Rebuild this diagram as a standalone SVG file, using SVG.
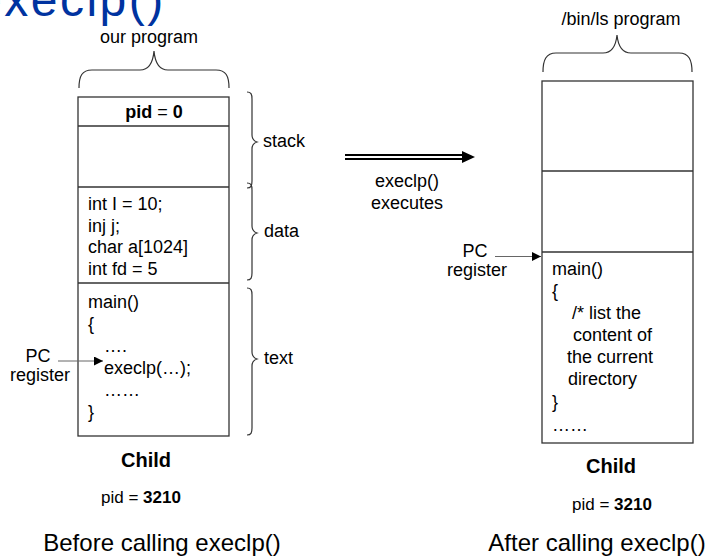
<svg xmlns="http://www.w3.org/2000/svg" width="719" height="557" viewBox="0 0 719 557">
  <defs>
    <style>
      text { font-family: "Liberation Sans", Arial, sans-serif; fill: #000; }
      .t { font-size: 18px; }
      .mid { text-anchor: middle; }
      .b { font-weight: bold; }
      .cap { font-size: 24px; }
      .child { font-size: 20px; font-weight: bold; }
      .pid { font-size: 17px; }
      .title { font-size: 48px; fill: #0033a0; letter-spacing: 2.5px; }
      .box { fill: #fff; stroke: #333; stroke-width: 1.3; }
      .div { stroke: #333; stroke-width: 1.3; fill: none; }
      .brace { fill: none; stroke: #333; stroke-width: 1.2; }
      .pc { stroke: #666; stroke-width: 1; fill: none; }
    </style>
    <marker id="tri" viewBox="0 0 10 10" refX="10" refY="5" markerWidth="9" markerHeight="9" markerUnits="userSpaceOnUse" orient="auto">
      <path d="M0,0 L10,5 L0,10 Z" fill="#000"/>
    </marker>
  </defs>

  <!-- slide title, partly above the frame -->
  <text class="title" x="-25" y="16">execlp()</text>

  <!-- left process image -->
  <g id="before">
    <text class="t mid" x="149" y="43">our program</text>
    <path class="brace" d="M79,88 C79,76 82,70 92,70 L140,70 C149,70 153,62 154,51 C155,62 159,70 168,70 L216,70 C226,70 229,76 229,88"/>
    <rect class="box" x="78" y="97" width="151" height="339"/>
    <line class="div" x1="78" y1="126" x2="229" y2="126"/>
    <line class="div" x1="78" y1="187" x2="229" y2="187"/>
    <line class="div" x1="78" y1="283" x2="229" y2="283"/>
    <text class="t mid" x="154" y="118"><tspan class="b">pid</tspan> = <tspan class="b">0</tspan></text>
    <text class="t" x="88" y="210">int I = 10;</text>
    <text class="t" x="88" y="232">inj j;</text>
    <text class="t" x="88" y="253">char a[1024]</text>
    <text class="t" x="88" y="275">int fd = 5</text>
    <text class="t" x="88" y="308">main()</text>
    <text class="t" x="88" y="330">{</text>
    <text class="t" x="104" y="352">….</text>
    <text class="t" x="104" y="374">execlp(…);</text>
    <text class="t" x="104" y="396">……</text>
    <text class="t" x="88" y="418">}</text>
    <!-- segment braces -->
    <path class="brace" d="M247,92 C251,92 252,94 252,99 L252,135 C252,139 254,141 257,142 C254,143 252,145 252,149 L252,181 C252,186 251,188 247,188"/>
    <path class="brace" d="M247,183 C251,183 252,185 252,190 L252,226 C252,230 254,232 257,233 C254,234 252,236 252,240 L252,273 C252,278 251,280 247,280"/>
    <path class="brace" d="M247,288 C251,288 252,290 252,295 L252,352 C252,356 254,358 257,359 C254,360 252,362 252,366 L252,428 C252,433 251,435 247,435"/>
    <text class="t" x="263" y="147">stack</text>
    <text class="t" x="264" y="237">data</text>
    <text class="t" x="264" y="364">text</text>
    <text class="t mid" x="38" y="362">PC</text>
    <text class="t mid" x="40" y="381">register</text>
    <text class="child mid" x="146" y="467">Child</text>
    <text class="pid mid" x="141" y="503">pid = <tspan class="b">3210</tspan></text>
    <text class="cap mid" x="162" y="551">Before calling execlp()</text>
  </g>

  <!-- right process image -->
  <g id="after">
    <text class="t mid" x="621" y="25">/bin/ls program</text>
    <path class="brace" d="M543,72 C543,60 546,53 556,53 L603,53 C612,53 616,45 617,35 C618,45 622,53 631,53 L679,53 C689,53 692,60 692,72"/>
    <rect class="box" x="542" y="81" width="151" height="362"/>
    <line class="div" x1="542" y1="171" x2="693" y2="171"/>
    <line class="div" x1="542" y1="252" x2="693" y2="252"/>
    <text class="t" x="552" y="275">main()</text>
    <text class="t" x="552" y="297">{</text>
    <text class="t" x="572" y="319">/* list the</text>
    <text class="t" x="573" y="341">content of</text>
    <text class="t" x="567" y="363">the current</text>
    <text class="t" x="568" y="385">directory</text>
    <text class="t" x="552" y="408">}</text>
    <text class="t" x="552" y="431">……</text>
    <text class="t mid" x="475" y="257">PC</text>
    <text class="t mid" x="477" y="276">register</text>
    <text class="child mid" x="611" y="473">Child</text>
    <text class="pid mid" x="612" y="510">pid = <tspan class="b">3210</tspan></text>
    <text class="cap mid" x="597" y="551">After calling execlp()</text>
  </g>

  <!-- transition label -->
  <g id="transition">
    <text class="t mid" x="407" y="187">execlp()</text>
    <text class="t mid" x="407" y="209">executes</text>
  </g>

  <g id="connectors">
    <line x1="345" y1="155" x2="464" y2="155" stroke="#000" stroke-width="2"/>
    <line x1="345" y1="159" x2="464" y2="159" stroke="#000" stroke-width="2"/>
    <path d="M462,151 L475,157 L462,163 Z" fill="#000"/>
    <line class="pc" x1="58" y1="361" x2="103" y2="361" marker-end="url(#tri)"/>
    <line class="pc" x1="495" y1="256.5" x2="541" y2="256.5" marker-end="url(#tri)"/>
  </g>
</svg>
